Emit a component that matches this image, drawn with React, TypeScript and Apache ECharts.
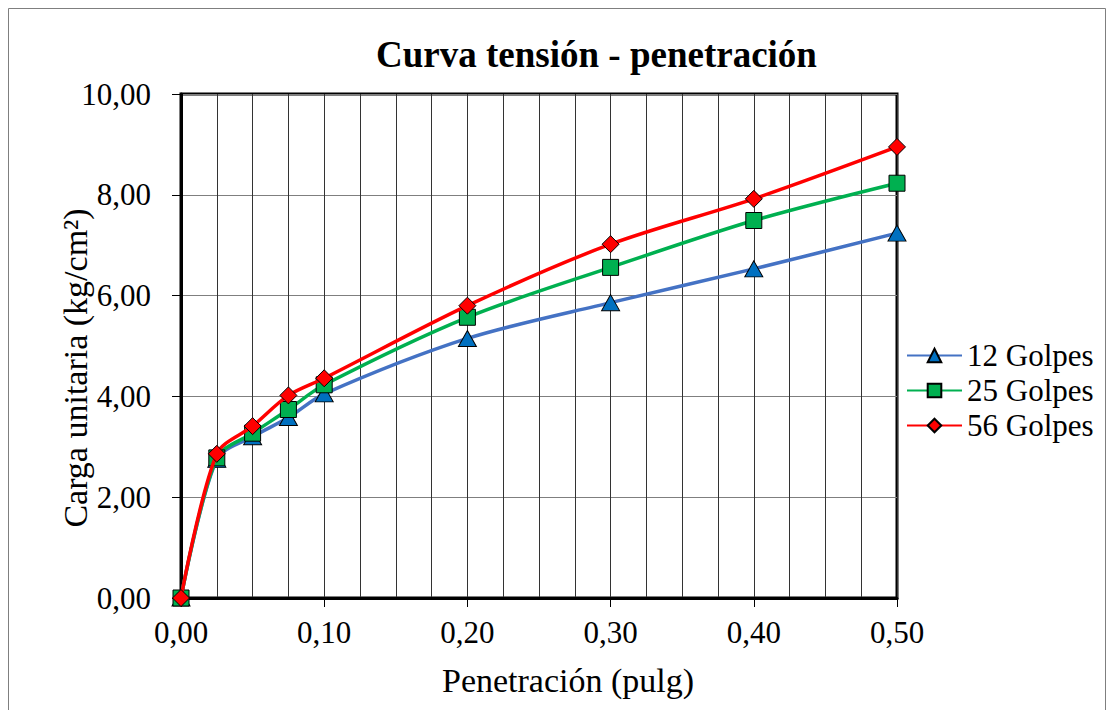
import React, { useEffect, useRef } from "react";
import * as echarts from "echarts";

// Penetration readings (inches) and unit load (kg/cm²) for each compaction energy
const penetracion = [0, 0.025, 0.05, 0.075, 0.1, 0.2, 0.3, 0.4, 0.5];
const golpes12 = [0, 2.75, 3.2, 3.58, 4.05, 5.15, 5.86, 6.53, 7.24];
const golpes25 = [0, 2.78, 3.27, 3.74, 4.23, 5.57, 6.56, 7.49, 8.23];
const golpes56 = [0, 2.86, 3.41, 4.02, 4.36, 5.8, 7.02, 7.92, 8.95];

const seriesNames = ["12 Golpes", "25 Golpes", "56 Golpes"];
const lineColors = ["#4472C4", "#00B050", "#FF0000"];
const markerColors = ["#0070C0", "#00B050", "#FF0000"];
const markerShapes = ["triangle", "rect", "diamond"];
const markerSizes = [[18, 16], 16, 17];

const FONT = "'Liberation Serif', 'Times New Roman', serif";

const fmt = (v: number) => v.toFixed(2).replace(".", ",");

export default function App() {
  const ref = useRef<HTMLDivElement>(null);

  useEffect(() => {
    if (!ref.current) return;
    const chart = echarts.init(ref.current, null, { renderer: "svg" });
    const datasets = [golpes12, golpes25, golpes56];

    chart.setOption({
      animation: false,
      backgroundColor: "#ffffff",
      textStyle: { fontFamily: FONT },
      grid: {
        left: 181,
        top: 94,
        width: 716,
        height: 504,
        show: true,
        borderColor: "#000",
        borderWidth: 3,
        backgroundColor: "transparent",
      },
      legend: {
        orient: "vertical",
        left: 901,
        top: 335,
        itemWidth: 55,
        itemHeight: 17,
        itemGap: 4,
        textStyle: { fontFamily: FONT, fontSize: 31, color: "#000" },
        data: seriesNames,
      },
      xAxis: {
        type: "value",
        min: 0,
        max: 0.5,
        interval: 0.1,
        axisLine: { show: true, onZero: false, lineStyle: { color: "#000", width: 3 } },
        axisTick: { show: true, length: 9, lineStyle: { color: "#000", width: 1 } },
        minorTick: { show: false, splitNumber: 4 },
        axisLabel: {
          fontFamily: FONT,
          fontSize: 31,
          color: "#000",
          margin: 19,
          formatter: (v: number) => fmt(v),
        },
        splitLine: { show: true, lineStyle: { color: "#333", width: 1 } },
        minorSplitLine: { show: true, lineStyle: { color: "#333", width: 1 } },
      },
      yAxis: {
        type: "value",
        min: 0,
        max: 10,
        interval: 2,
        axisLine: { show: true, onZero: false, lineStyle: { color: "#000", width: 3 } },
        axisTick: { show: true, length: 9, lineStyle: { color: "#000", width: 1 } },
        axisLabel: {
          fontFamily: FONT,
          fontSize: 31,
          color: "#000",
          margin: 30,
          formatter: (v: number) => fmt(v),
        },
        splitLine: { show: true, lineStyle: { color: "#7f7f7f", width: 1 } },
      },
      series: seriesNames.map((name, s) => ({
        name,
        type: "line",
        smooth: 0.3,
        symbol: markerShapes[s],
        symbolSize: markerSizes[s],
        lineStyle: { color: lineColors[s], width: 3.5 },
        itemStyle: { color: markerColors[s], borderColor: "#000", borderWidth: 1 },
        data: penetracion.map((x, i) => [x, datasets[s][i]]),
        z: 3 + s,
      })),
      graphic: [
        {
          type: "rect",
          silent: true,
          shape: { x: 8.5, y: 8.5, width: 1097, height: 720 },
          style: { fill: "none", stroke: "#7f7f7f", lineWidth: 1 },
        },
        {
          type: "text",
          x: 596.5,
          y: 54.5,
          style: {
            text: "Curva tensión - penetración",
            font: `bold 37px ${FONT}`,
            fill: "#000",
            align: "center",
            verticalAlign: "middle",
          },
        },
        {
          type: "text",
          x: 568,
          y: 680.5,
          style: {
            text: "Penetración (pulg)",
            font: `34px ${FONT}`,
            fill: "#000",
            align: "center",
            verticalAlign: "middle",
          },
        },
        {
          type: "text",
          x: 75.5,
          y: 368,
          rotation: Math.PI / 2,
          style: {
            text: "Carga unitaria (kg/cm²)",
            font: `34px ${FONT}`,
            fill: "#000",
            align: "center",
            verticalAlign: "middle",
          },
        },
      ],
    });

    return () => chart.dispose();
  }, []);

  return (
    <div
      ref={ref}
      style={{ position: "fixed", left: 0, top: 0, width: 1107, height: 710 }}
    />
  );
}
